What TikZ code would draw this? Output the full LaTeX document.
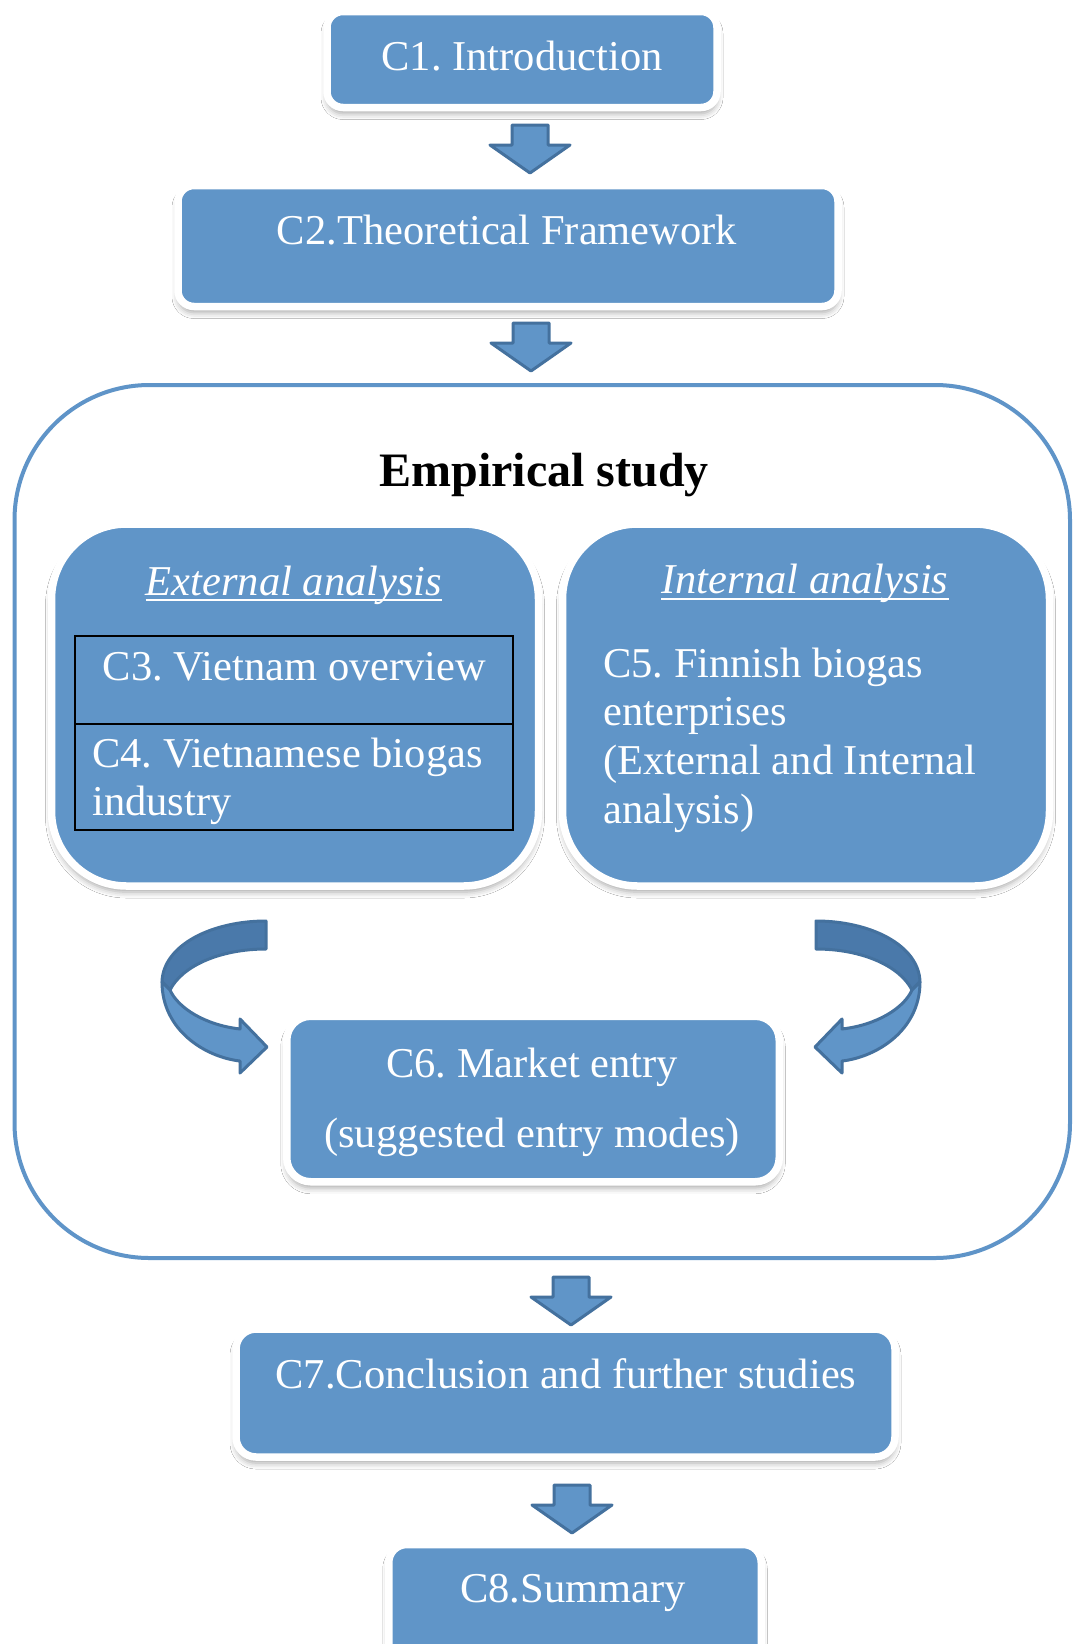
\documentclass[tikz,border=0pt]{standalone}
\usepackage{fontspec}
\setmainfont{Liberation Serif}
\usetikzlibrary{shadows.blur}
\frenchspacing

\definecolor{boxblue}{RGB}{96,149,200}
\definecolor{edgeblue}{RGB}{68,113,158}
\definecolor{darkface}{RGB}{74,121,170}
\definecolor{frameblue}{RGB}{95,148,200}

\tikzset{
  chapbox/.style={rectangle, fill=boxblue, draw=white, line width=7.5pt, inner sep=0pt,
    blur shadow={shadow xshift=0pt, shadow yshift=-6pt, shadow blur radius=6pt, shadow opacity=35}},
  wtext/.style={text=white, inner sep=0pt, font=\fontsize{42.5}{48.7}\selectfont},
  subrect/.style={rectangle, draw=black, line width=1.2pt, inner sep=0pt},
  arrowbody/.style={fill=boxblue, draw=edgeblue, line width=3pt, line join=round},
  arrowdark/.style={fill=darkface, draw=edgeblue, line width=3pt, line join=round},
  blockdown/.pic={
    \draw[arrowbody] (-18,0) -- (18,0) -- (18,20) -- (40,20) -- (0,48) -- (-40,20) -- (-18,20) -- cycle;
  },
  bendarrow/.pic={
    \draw[arrowdark] (266,921) .. controls (212,921) and (163,945) .. (162,982)
      -- (170,990) .. controls (182,966) and (220,949) .. (266,949) -- cycle;
    \draw[arrowbody] (162,982) .. controls (162,1030) and (205,1057) .. (240,1061)
      -- (240,1073) -- (267,1047) -- (240,1019) -- (240,1029)
      .. controls (205,1025) and (178,1008) .. (170,990) -- cycle;
  }
}

\begin{document}
\begin{tikzpicture}[x=1pt, y=-1pt]
  \fill[white] (0,0) rectangle (1074,1644);
  \useasboundingbox (0,0) rectangle (1074,1644);

  % chapter boxes on the main axis
  \node[chapbox, rounded corners=16pt, minimum width=390pt, minimum height=96pt] (c1) at (522,59.5) {};
  \node[wtext, anchor=base] (c1t) at (522,70) {C1. Introduction};

  \node[chapbox, rounded corners=16pt, minimum width=660pt, minimum height=121pt] (c2) at (508,246) {};
  \node[wtext, anchor=base] (c2t) at (507,244) {C2.Theoretical Framework};

  % empirical study frame
  \node[draw=frameblue, line width=4pt, rounded corners=135pt, minimum width=1055.5pt,
        minimum height=873pt, inner sep=0pt] (emp) at (542.25,821.5) {};
  \node[inner sep=0pt, anchor=base, font=\fontsize{48}{56}\selectfont\bfseries] (empt) at (544,486) {Empirical study};

  % external analysis
  \node[chapbox, rounded corners=75pt, minimum width=487pt, minimum height=362pt] (ext) at (295,705) {};
  \node[wtext, anchor=base, font=\fontsize{42.5}{48.7}\selectfont\itshape] (extt) at (294,595) {External analysis};
  \draw[white, line width=1.8pt] ([yshift=-5pt]extt.base west) -- ([yshift=-5pt]extt.base east);
  \node[subrect, minimum width=438pt, minimum height=88pt] (c3) at (294,680) {};
  \node[subrect, minimum width=438pt, minimum height=106pt] (c4) at (294,777) {};
  \node[wtext, anchor=base] (c3t) at (294.5,680) {C3. Vietnam overview};
  \node[wtext, anchor=base west] (c4t) at (92,767)
    {\vtop{\hbox{C4. Vietnamese biogas}\hbox{industry}}};

  % internal analysis
  \node[chapbox, rounded corners=75pt, minimum width=487pt, minimum height=362pt] (int) at (806,705) {};
  \node[wtext, anchor=base, font=\fontsize{42.5}{48.7}\selectfont\itshape] (intt) at (805,593) {Internal analysis};
  \draw[white, line width=1.8pt] ([yshift=-6pt]intt.base west) -- ([yshift=-6pt]intt.base east);
  \node[wtext, anchor=base west] (c5t) at (603,677)
    {\vtop{\hbox{C5. Finnish biogas}\hbox{enterprises}\hbox{(External and Internal}\hbox{analysis)}}};

  % market entry
  \node[chapbox, rounded corners=24pt, minimum width=492.5pt, minimum height=165.5pt] (c6) at (533,1099) {};
  \node[wtext, anchor=base] (c6t) at (532,1077) {C6. Market entry};
  \node[wtext, anchor=base] (c6s) at (532,1147) {(suggested entry modes)};

  % bent arrows leading into the market entry box
  \pic at (0,0) {bendarrow};
  \pic[xscale=-1] at (1082,0) {bendarrow};

  % closing chapters
  \node[chapbox, rounded corners=20pt, minimum width=659pt, minimum height=128pt] (c7) at (565.5,1393) {};
  \node[wtext, anchor=base] (c7t) at (566,1388) {C7.Conclusion and further studies};

  \node[chapbox, rounded corners=18pt, minimum width=372.5pt, minimum height=150pt] (c8) at (575,1619.5) {};
  \node[wtext, anchor=base] (c8t) at (573,1602) {C8.Summary};

  % block arrows between chapters
  \pic at (530,125) {blockdown};
  \pic at (531,323) {blockdown};
  \pic at (571,1277) {blockdown};
  \pic at (572,1485) {blockdown};
\end{tikzpicture}
\end{document}
